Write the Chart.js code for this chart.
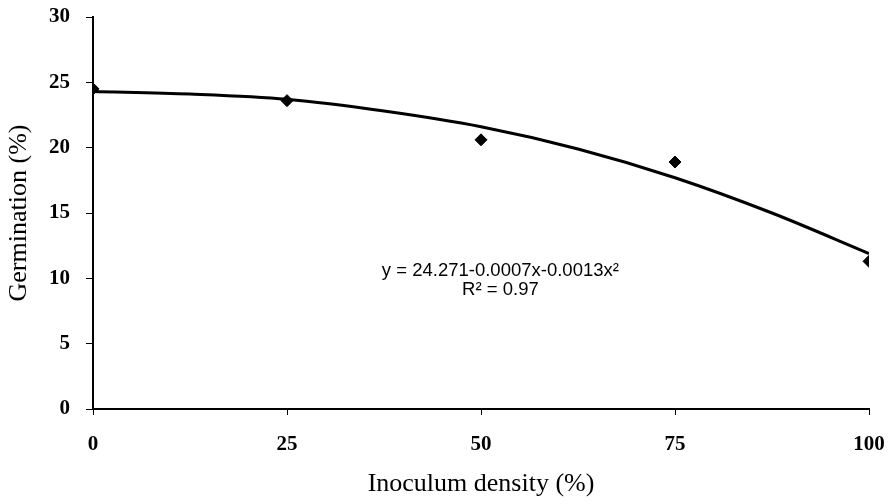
<!DOCTYPE html>
<html>
<head>
<meta charset="utf-8">
<script src="https://cdn.jsdelivr.net/npm/chart.js@4.4.1/dist/chart.umd.min.js"></script>
<style>
  html, body { margin: 0; padding: 0; background: #fff; }
  #wrap { width: 895px; height: 504px; }
</style>
</head>
<body>
<div id="wrap"><canvas id="grafico" width="895" height="504"></canvas></div>
<script>
// observed germination at each inoculum density
const densidad = [0, 25, 50, 75, 100];
const germinacion = [24.5, 23.6, 20.6, 18.9, 11.3];

// fitted curve
const curvaX = [0, 12.5, 25, 37.5, 50, 62.5, 75, 87.5, 100];
const curvaY = [24.3, 24.1, 23.7, 22.8, 21.6, 19.9, 17.7, 15.0, 11.9];

const ticksX = [0, 25, 50, 75, 100];
const ecuacion = ['y = 24.271-0.0007x-0.0013x²', 'R² = 0.97'];

const serif = '"Liberation Serif", "Times New Roman", serif';

// texto de la ecuación, colocado con las escalas
const textoEcuacion = {
  id: 'textoEcuacion',
  afterDatasetsDraw(chart) {
    const ctx = chart.ctx;
    const x = chart.scales.x.getPixelForValue(52.5);
    ctx.save();
    ctx.fillStyle = '#000';
    ctx.font = '18.5px "Liberation Sans Narrow", "Liberation Sans", sans-serif';
    ctx.textAlign = 'center';
    ctx.textBaseline = 'middle';
    ctx.fillText(ecuacion[0], x, chart.scales.y.getPixelForValue(10.6));
    ctx.fillText(ecuacion[1], x, chart.scales.y.getPixelForValue(9.1));
    ctx.restore();
  }
};

new Chart(document.getElementById('grafico'), {
  type: 'scatter',
  data: {
    datasets: [
      {
        label: 'ajuste',
        data: curvaX.map((x, i) => ({ x: x, y: curvaY[i] })),
        showLine: true,
        borderColor: '#000',
        borderWidth: 3,
        pointRadius: 0,
        tension: 0.4,
        cubicInterpolationMode: 'monotone'
      },
      {
        label: 'germinación',
        data: densidad.map((x, i) => ({ x: x, y: germinacion[i] })),
        pointStyle: 'rectRot',
        pointRadius: 6,
        backgroundColor: '#000',
        borderColor: '#000'
      }
    ]
  },
  options: {
    responsive: false,
    animation: false,
    layout: { padding: { top: 17, right: 26, left: 0, bottom: 0 } },
    plugins: {
      legend: { display: false },
      tooltip: { enabled: false }
    },
    scales: {
      x: {
        type: 'linear',
        min: 0,
        max: 100,
        afterBuildTicks: (s) => { s.ticks = ticksX.map(v => ({ value: v })); },
        afterFit: (s) => { s.height = 95; s.paddingLeft = 0; s.paddingRight = 0; },
        border: { display: true, color: '#000', width: 2 },
        grid: { display: true, drawOnChartArea: false, drawTicks: true, tickLength: 6, color: '#000' },
        ticks: { color: '#000', padding: 17, font: { family: serif, size: 21, weight: 'bold' } },
        title: { display: true, text: 'Inoculum density (%)', color: '#000', padding: { top: 10 }, font: { family: serif, size: 26 } }
      },
      y: {
        min: 0,
        max: 30,
        afterFit: (s) => { s.width = 93; s.paddingTop = 0; s.paddingBottom = 0; },
        border: { display: true, color: '#000', width: 2 },
        grid: { display: true, drawOnChartArea: false, drawTicks: true, tickLength: 7, color: '#000' },
        ticks: { stepSize: 5, color: '#000', padding: 16, font: { family: serif, size: 21, weight: 'bold' } },
        title: { display: true, text: 'Germination (%)', color: '#000', padding: { bottom: 2 }, font: { family: serif, size: 26 } }
      }
    }
  },
  plugins: [textoEcuacion]
});
</script>
</body>
</html>
